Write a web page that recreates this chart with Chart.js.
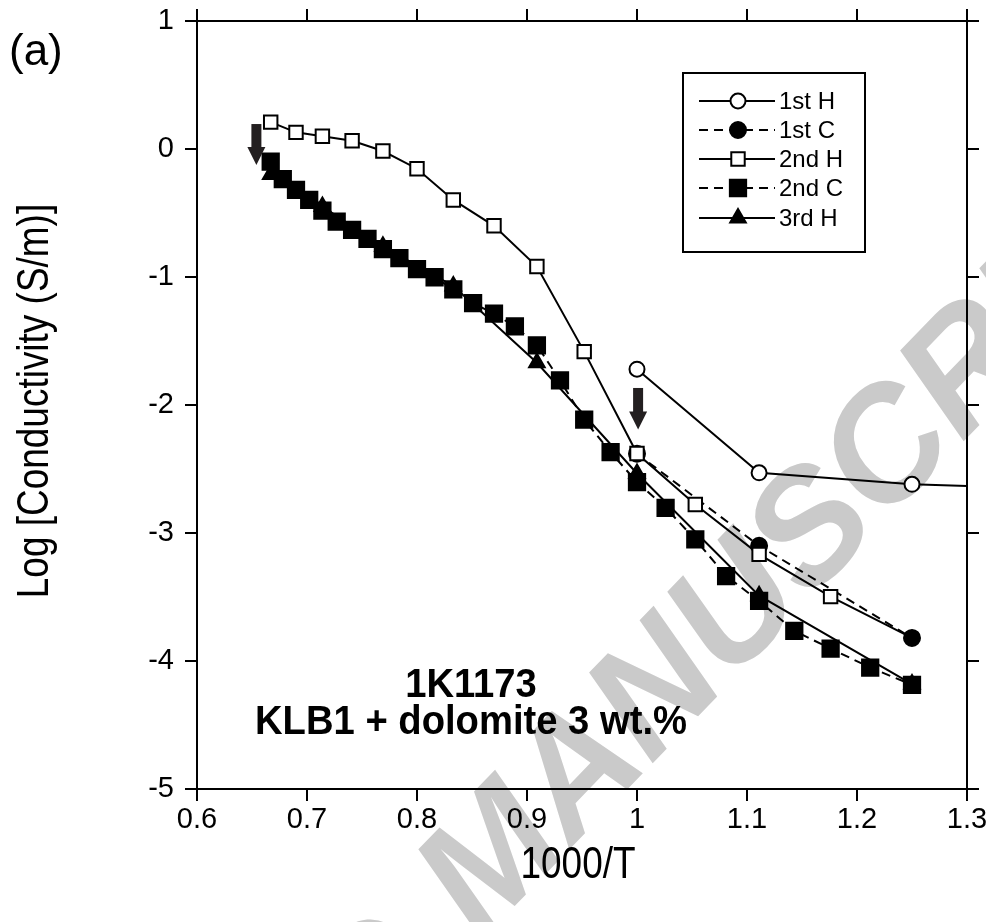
<!DOCTYPE html>
<html>
<head>
<meta charset="utf-8">
<script src="https://cdn.jsdelivr.net/npm/chart.js@4.4.1/dist/chart.umd.min.js"></script>
<style>
  html, body { margin: 0; padding: 0; background: #fff; }
  #wrap { width: 986px; height: 922px; }
</style>
</head>
<body>
<div id="wrap"><canvas id="conductivityChart" width="986" height="922"></canvas></div>
<script>
// values: x = 1000/T, y = log conductivity (S/m)
const firstHeatX = [1.000, 1.111, 1.250, 1.333];
const firstHeatY = [-1.72, -2.53, -2.62, -2.64];

const firstCoolX = [1.000, 1.111, 1.250];
const firstCoolY = [-2.38, -3.10, -3.82];

const secondHeatX = [0.667, 0.690, 0.714, 0.741, 0.769, 0.800, 0.833, 0.870, 0.909, 0.952, 1.000, 1.053, 1.111, 1.176, 1.250];
const secondHeatY = [0.21, 0.13, 0.10, 0.065, -0.016, -0.154, -0.398, -0.60, -0.918, -1.583, -2.379, -2.777, -3.167, -3.497, -3.82];

const secondCoolX = [0.667, 0.678, 0.690, 0.702, 0.714, 0.727, 0.741, 0.755, 0.769, 0.784, 0.800, 0.816, 0.833, 0.851,
  0.870, 0.889, 0.909, 0.930, 0.952, 0.976, 1.000, 1.026, 1.053, 1.081, 1.111, 1.143, 1.176, 1.212, 1.250];
const secondCoolY = [-0.099, -0.236, -0.320, -0.398, -0.481, -0.567, -0.632, -0.702, -0.782, -0.853, -0.938, -1.002, -1.096, -1.204,
  -1.287, -1.386, -1.534, -1.807, -2.114, -2.369, -2.603, -2.803, -3.050, -3.336, -3.531, -3.765, -3.903, -4.051, -4.186];

const thirdHeatX = [0.667, 0.714, 0.769, 0.833, 0.909, 1.000, 1.111, 1.250];
const thirdHeatY = [-0.20, -0.45, -0.76, -1.07, -1.67, -2.535, -3.49, -4.18];

const seriesNames = ['1st H', '1st C', '2nd H', '2nd C', '3rd H'];
const xTickLabels = ['0.6', '0.7', '0.8', '0.9', '1', '1.1', '1.2', '1.3'];
const yTickLabels = ['1', '0', '-1', '-2', '-3', '-4', '-5'];

// arrows: [x, top y, tip y] in data units
const arrowMarks = [[0.654, 0.195, -0.125], [1.001, -1.867, -2.192]];
const sampleLines = ['1K1173', 'KLB1 + dolomite 3 wt.%'];

const FONT = '"Liberation Sans", Arial, Helvetica, sans-serif';

function pts(xs, ys) {
  return xs.map((x, i) => ({ x: x, y: ys[i] }));
}

function drawMarker(ctx, style, x, y, r, fill) {
  ctx.save();
  ctx.lineWidth = 2;
  ctx.strokeStyle = '#000';
  ctx.fillStyle = fill;
  ctx.beginPath();
  if (style === 'circle') {
    ctx.arc(x, y, r, 0, Math.PI * 2);
  } else if (style === 'rect') {
    const h = r * Math.SQRT1_2;
    ctx.rect(x - h, y - h, 2 * h, 2 * h);
  } else if (style === 'triangle') {
    for (let k = 0; k < 3; k++) {
      const a = k * 2 * Math.PI / 3;
      const px = x + Math.sin(a) * r, py = y - Math.cos(a) * r;
      if (k === 0) ctx.moveTo(px, py); else ctx.lineTo(px, py);
    }
    ctx.closePath();
  }
  ctx.fill();
  ctx.stroke();
  ctx.restore();
}

function squeezedText(ctx, text, x, y, font, sx, rot) {
  ctx.save();
  ctx.translate(x, y);
  ctx.rotate(rot || 0);
  ctx.scale(sx, 1);
  ctx.font = font;
  ctx.fillStyle = '#000';
  ctx.textAlign = 'center';
  ctx.textBaseline = 'middle';
  ctx.fillText(text, 0, 0);
  ctx.restore();
}

const watermark = {
  id: 'watermark',
  beforeDraw(chart) {
    const ctx = chart.ctx;
    ctx.save();
    ctx.translate(480, 942);
    ctx.rotate(-46 * Math.PI / 180);
    ctx.font = 'italic bold 158px ' + FONT;
    ctx.fillStyle = '#cacaca';
    ctx.textBaseline = 'alphabetic';
    const pre = 'ACCEPTED ';
    ctx.fillText(pre + 'MANUSCRIPT', -ctx.measureText(pre).width, 0);
    ctx.restore();
  }
};

const extras = {
  id: 'extras',
  afterDraw(chart) {
    const ctx = chart.ctx;
    const xs = chart.scales.x, ys = chart.scales.y;

    // arrows
    ctx.save();
    ctx.fillStyle = '#231f20';
    arrowMarks.forEach(a => {
      const px = xs.getPixelForValue(a[0]);
      const top = ys.getPixelForValue(a[1]);
      const tip = ys.getPixelForValue(a[2]);
      const headStart = tip - 18;
      ctx.fillRect(px - 5, top, 10, headStart - top + 1);
      ctx.beginPath();
      ctx.moveTo(px - 9, headStart);
      ctx.lineTo(px + 9, headStart);
      ctx.lineTo(px, tip);
      ctx.closePath();
      ctx.fill();
    });
    ctx.restore();

    // sample text
    squeezedText(ctx, sampleLines[0], 471, 686, 'bold 40px ' + FONT, 0.955);
    squeezedText(ctx, sampleLines[1], 471, 723, 'bold 40px ' + FONT, 0.955);

    // panel label and axis titles
    ctx.save();
    ctx.font = '44px ' + FONT;
    ctx.fillStyle = '#000';
    ctx.textAlign = 'left';
    ctx.textBaseline = 'alphabetic';
    ctx.fillText('(a)', 9, 65);
    ctx.restore();
    squeezedText(ctx, '1000/T', 578, 866, '44px ' + FONT, 0.84);
    squeezedText(ctx, 'Log [Conductivity (S/m)]', 36, 401, '44px ' + FONT, 0.84, -Math.PI / 2);

    // legend
    const box = { l: 683, t: 73, r: 865, b: 252 };
    ctx.save();
    ctx.lineWidth = 2;
    ctx.strokeStyle = '#000';
    ctx.strokeRect(box.l, box.t, box.r - box.l, box.b - box.t);
    const rowY = [101, 130, 159, 188, 218];
    chart.data.datasets.forEach((ds, i) => {
      const y = rowY[i];
      ctx.save();
      ctx.lineWidth = 2;
      ctx.strokeStyle = '#000';
      ctx.setLineDash(ds.borderDash || []);
      ctx.beginPath();
      ctx.moveTo(699, y);
      ctx.lineTo(775, y);
      ctx.stroke();
      ctx.restore();
      drawMarker(ctx, ds.pointStyle, 738, y, ds.legendRadius, ds.pointBackgroundColor);
      ctx.font = '24px ' + FONT;
      ctx.fillStyle = '#000';
      ctx.textAlign = 'left';
      ctx.textBaseline = 'middle';
      ctx.fillText(ds.label, 779, y + 1);
    });
    ctx.restore();
  }
};

function series(label, xs, ys, style, filled, radius, dashed, order) {
  return {
    label: label,
    data: pts(xs, ys),
    borderColor: '#000',
    borderWidth: 2,
    borderDash: dashed ? [9, 6] : [],
    pointStyle: style,
    pointRadius: radius,
    pointHoverRadius: radius,
    pointBorderWidth: 2,
    pointBorderColor: '#000',
    pointBackgroundColor: filled ? '#000' : '#fff',
    legendRadius: radius,
    fill: false,
    tension: 0,
    order: order
  };
}

const secondHeat = series(seriesNames[2], secondHeatX, secondHeatY, 'rect', false, 9.5, false, 2);
// last heating point sits under the 1st C marker
secondHeat.pointRadius = c => (c.dataIndex === secondHeatX.length - 1 ? 0 : 9.5);

const datasets = [
  series(seriesNames[0], firstHeatX, firstHeatY, 'circle', false, 7.5, false, 1),
  series(seriesNames[1], firstCoolX, firstCoolY, 'circle', true, 8, true, 3),
  secondHeat,
  series(seriesNames[3], secondCoolX, secondCoolY, 'rect', true, 11.5, true, 5),
  series(seriesNames[4], thirdHeatX, thirdHeatY, 'triangle', true, 9, false, 4)
];

const axisGrid = { drawOnChartArea: false, drawTicks: true, tickLength: 12, color: '#000', lineWidth: 2 };
const axisBorder = { display: true, color: '#000', width: 2 };
const noPad = s => { s.paddingLeft = 0; s.paddingRight = 0; s.paddingTop = 0; s.paddingBottom = 0; };

new Chart(document.getElementById('conductivityChart'), {
  type: 'line',
  data: { datasets: datasets },
  options: {
    responsive: false,
    animation: false,
    devicePixelRatio: 1,
    layout: { padding: 0 },
    plugins: { legend: { display: false }, tooltip: { enabled: false } },
    events: [],
    scales: {
      x: {
        type: 'linear', position: 'bottom', min: 0.6, max: 1.3,
        grid: axisGrid, border: axisBorder,
        ticks: {
          stepSize: 0.1, maxRotation: 0, autoSkip: false, padding: 2, color: '#000',
          font: { family: FONT, size: 29 },
          callback: (v, i) => xTickLabels[i]
        },
        afterFit: s => { s.height = 133; noPad(s); }
      },
      x2: {
        type: 'linear', position: 'top', min: 0.6, max: 1.3,
        grid: axisGrid, border: axisBorder,
        ticks: { stepSize: 0.1, display: false },
        afterFit: s => { s.height = 21; noPad(s); }
      },
      y: {
        type: 'linear', position: 'left', min: -5, max: 1,
        grid: axisGrid, border: axisBorder,
        ticks: {
          stepSize: 1, padding: 11, color: '#000',
          font: { family: FONT, size: 29 },
          callback: (v, i, all) => yTickLabels[all.length - 1 - i]
        },
        afterFit: s => { s.width = 197; noPad(s); }
      },
      y2: {
        type: 'linear', position: 'right', min: -5, max: 1,
        grid: axisGrid, border: axisBorder,
        ticks: { stepSize: 1, display: false },
        afterFit: s => { s.width = 19; noPad(s); }
      }
    }
  },
  plugins: [watermark, extras]
});
</script>
</body>
</html>
